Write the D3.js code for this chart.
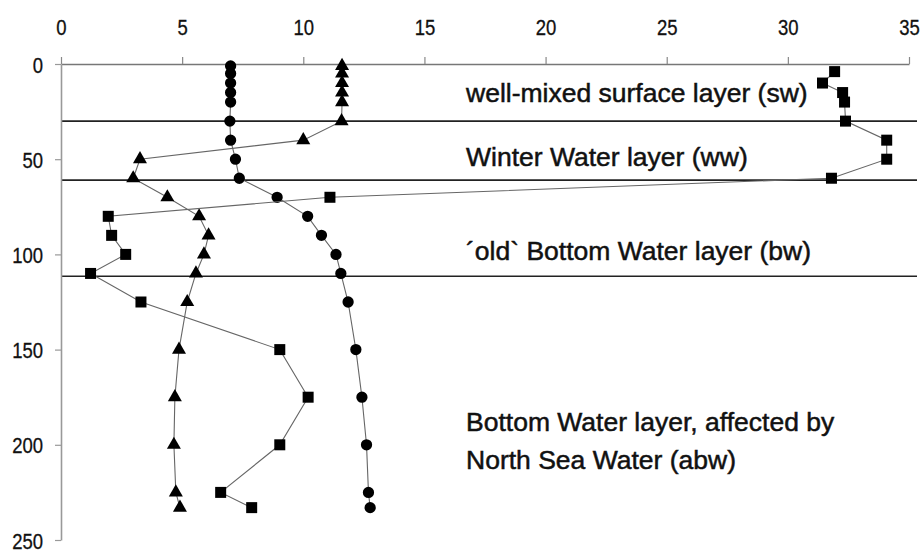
<!DOCTYPE html>
<html>
<head>
<meta charset="utf-8">
<script src="https://cdn.jsdelivr.net/npm/d3@7"></script>
<style>
  html, body { margin: 0; padding: 0; background: #fff; }
  svg { display: block; }
  text { font-family: "Liberation Sans", Arial, sans-serif; fill: #111; }
</style>
</head>
<body>
<div id="chart"></div>
<script>
// ---- data ----
const xTicks = [0, 5, 10, 15, 20, 25, 30, 35];
const yTicks = [0, 50, 100, 150, 200, 250];

const depthsCT = [1, 5, 10, 15, 20, 30, 40, 50, 60, 70, 80, 90, 100, 110, 125, 150, 175, 200, 225, 233];
const circleValues = [7.0, 7.0, 7.0, 7.0, 7.0, 6.97, 7.0, 7.2, 7.36, 8.92, 10.18, 10.75, 11.35, 11.55, 11.85, 12.17, 12.42, 12.61, 12.69, 12.76];
const triangleValues = [11.6, 11.6, 11.6, 11.6, 11.6, 11.58, 10.0, 3.26, 2.98, 4.39, 5.7, 6.09, 5.9, 5.57, 5.21, 4.87, 4.70, 4.66, 4.74, 4.91];

const depthsSq = [4, 10, 15, 20, 30, 40, 50, 60, 70, 80, 90, 100, 110, 125, 150, 175, 200, 225, 233];
const squareValues = [31.93, 31.43, 32.26, 32.34, 32.38, 34.08, 34.08, 31.8, 11.1, 1.95, 2.09, 2.67, 1.22, 3.3, 9.03, 10.2, 9.03, 6.59, 7.87];

const layerBounds = [30, 61, 111.5];
const layerLabels = [
  { lines: ["well-mixed surface layer (sw)"], depth: 19.8 },
  { lines: ["Winter Water layer (ww)"], depth: 53.5 },
  { lines: ["\u00B4old` Bottom Water layer (bw)"], depth: 102.8 },
  { lines: ["Bottom Water layer, affected by", "North Sea Water (abw)"], depth: 193 }
];

// ---- layout ----
const W = 923, H = 552;
const svg = d3.select("#chart").append("svg").attr("width", W).attr("height", H);

const x = d3.scaleLinear().domain([0, 35]).range([61, 909]);
const y = d3.scaleLinear().domain([0, 250]).range([64, 540]);

// layer boundary lines
svg.selectAll("line.layer").data(layerBounds).enter().append("line")
  .attr("class", "layer")
  .attr("x1", x(0)).attr("x2", 917)
  .attr("y1", d => y(d)).attr("y2", d => y(d))
  .attr("stroke", "#222").attr("stroke-width", 1.6);

// top x axis
const xAxis = d3.axisTop(x).tickValues(xTicks).tickSize(7).tickSizeOuter(0).tickFormat(d3.format("d"));
const gx = svg.append("g").attr("transform", `translate(0,${y(0)})`).call(xAxis);
gx.select(".domain").attr("stroke", "#777").attr("stroke-width", 1.6);
gx.selectAll(".tick line").attr("stroke", "#888").attr("stroke-width", 1.2);
gx.selectAll(".tick text")
  .attr("x", null).attr("y", null).attr("dy", null)
  .attr("transform", `translate(0,${35 - y(0)}) scale(1,1.2)`)
  .attr("text-anchor", "middle")
  .attr("stroke", "#111").attr("stroke-width", 0.25)
  .style("font-size", "18.5px").style("font-family", "Liberation Sans, Arial, sans-serif").attr("fill", "#111");

// left y axis
const yAxis = d3.axisLeft(y).tickValues(yTicks).tickSize(6).tickSizeOuter(0);
const gy = svg.append("g").attr("transform", `translate(${x(0)},0)`).call(yAxis);
gy.select(".domain").attr("stroke", "#999").attr("stroke-width", 1.6);
gy.selectAll(".tick line").attr("stroke", "#999").attr("stroke-width", 1.2);
gy.selectAll(".tick text")
  .attr("x", null).attr("y", null).attr("dy", null)
  .attr("transform", `translate(-18,8) scale(1,1.2)`)
  .attr("text-anchor", "end")
  .attr("stroke", "#111").attr("stroke-width", 0.25)
  .style("font-size", "18.5px").style("font-family", "Liberation Sans, Arial, sans-serif").attr("fill", "#111");

// series
function drawSeries(depths, values, symbolType, size) {
  const pts = depths.map((d, i) => [x(values[i]), y(d)]);
  svg.append("path").datum(pts)
    .attr("d", d3.line())
    .attr("fill", "none").attr("stroke", "#666").attr("stroke-width", 1.1);
  svg.selectAll(null).data(pts).enter().append("path")
    .attr("transform", p => `translate(${p[0]},${p[1]})`)
    .attr("d", d3.symbol().type(symbolType).size(size))
    .attr("fill", "#000");
}
drawSeries(depthsCT, circleValues, d3.symbolCircle, 100);
drawSeries(depthsCT, triangleValues, d3.symbolTriangle, 85);
drawSeries(depthsSq, squareValues, d3.symbolSquare, 121);

// layer labels
layerLabels.forEach(l => {
  const t = svg.append("text").attr("x", 466).attr("y", y(l.depth))
    .style("font-size", "26.5px").attr("fill", "#111")
    .attr("stroke", "#111").attr("stroke-width", 0.5);
  l.lines.forEach((s, i) => {
    t.append("tspan").attr("x", 466).attr("dy", i === 0 ? 0 : "1.43em").text(s);
  });
});
</script>
</body>
</html>
